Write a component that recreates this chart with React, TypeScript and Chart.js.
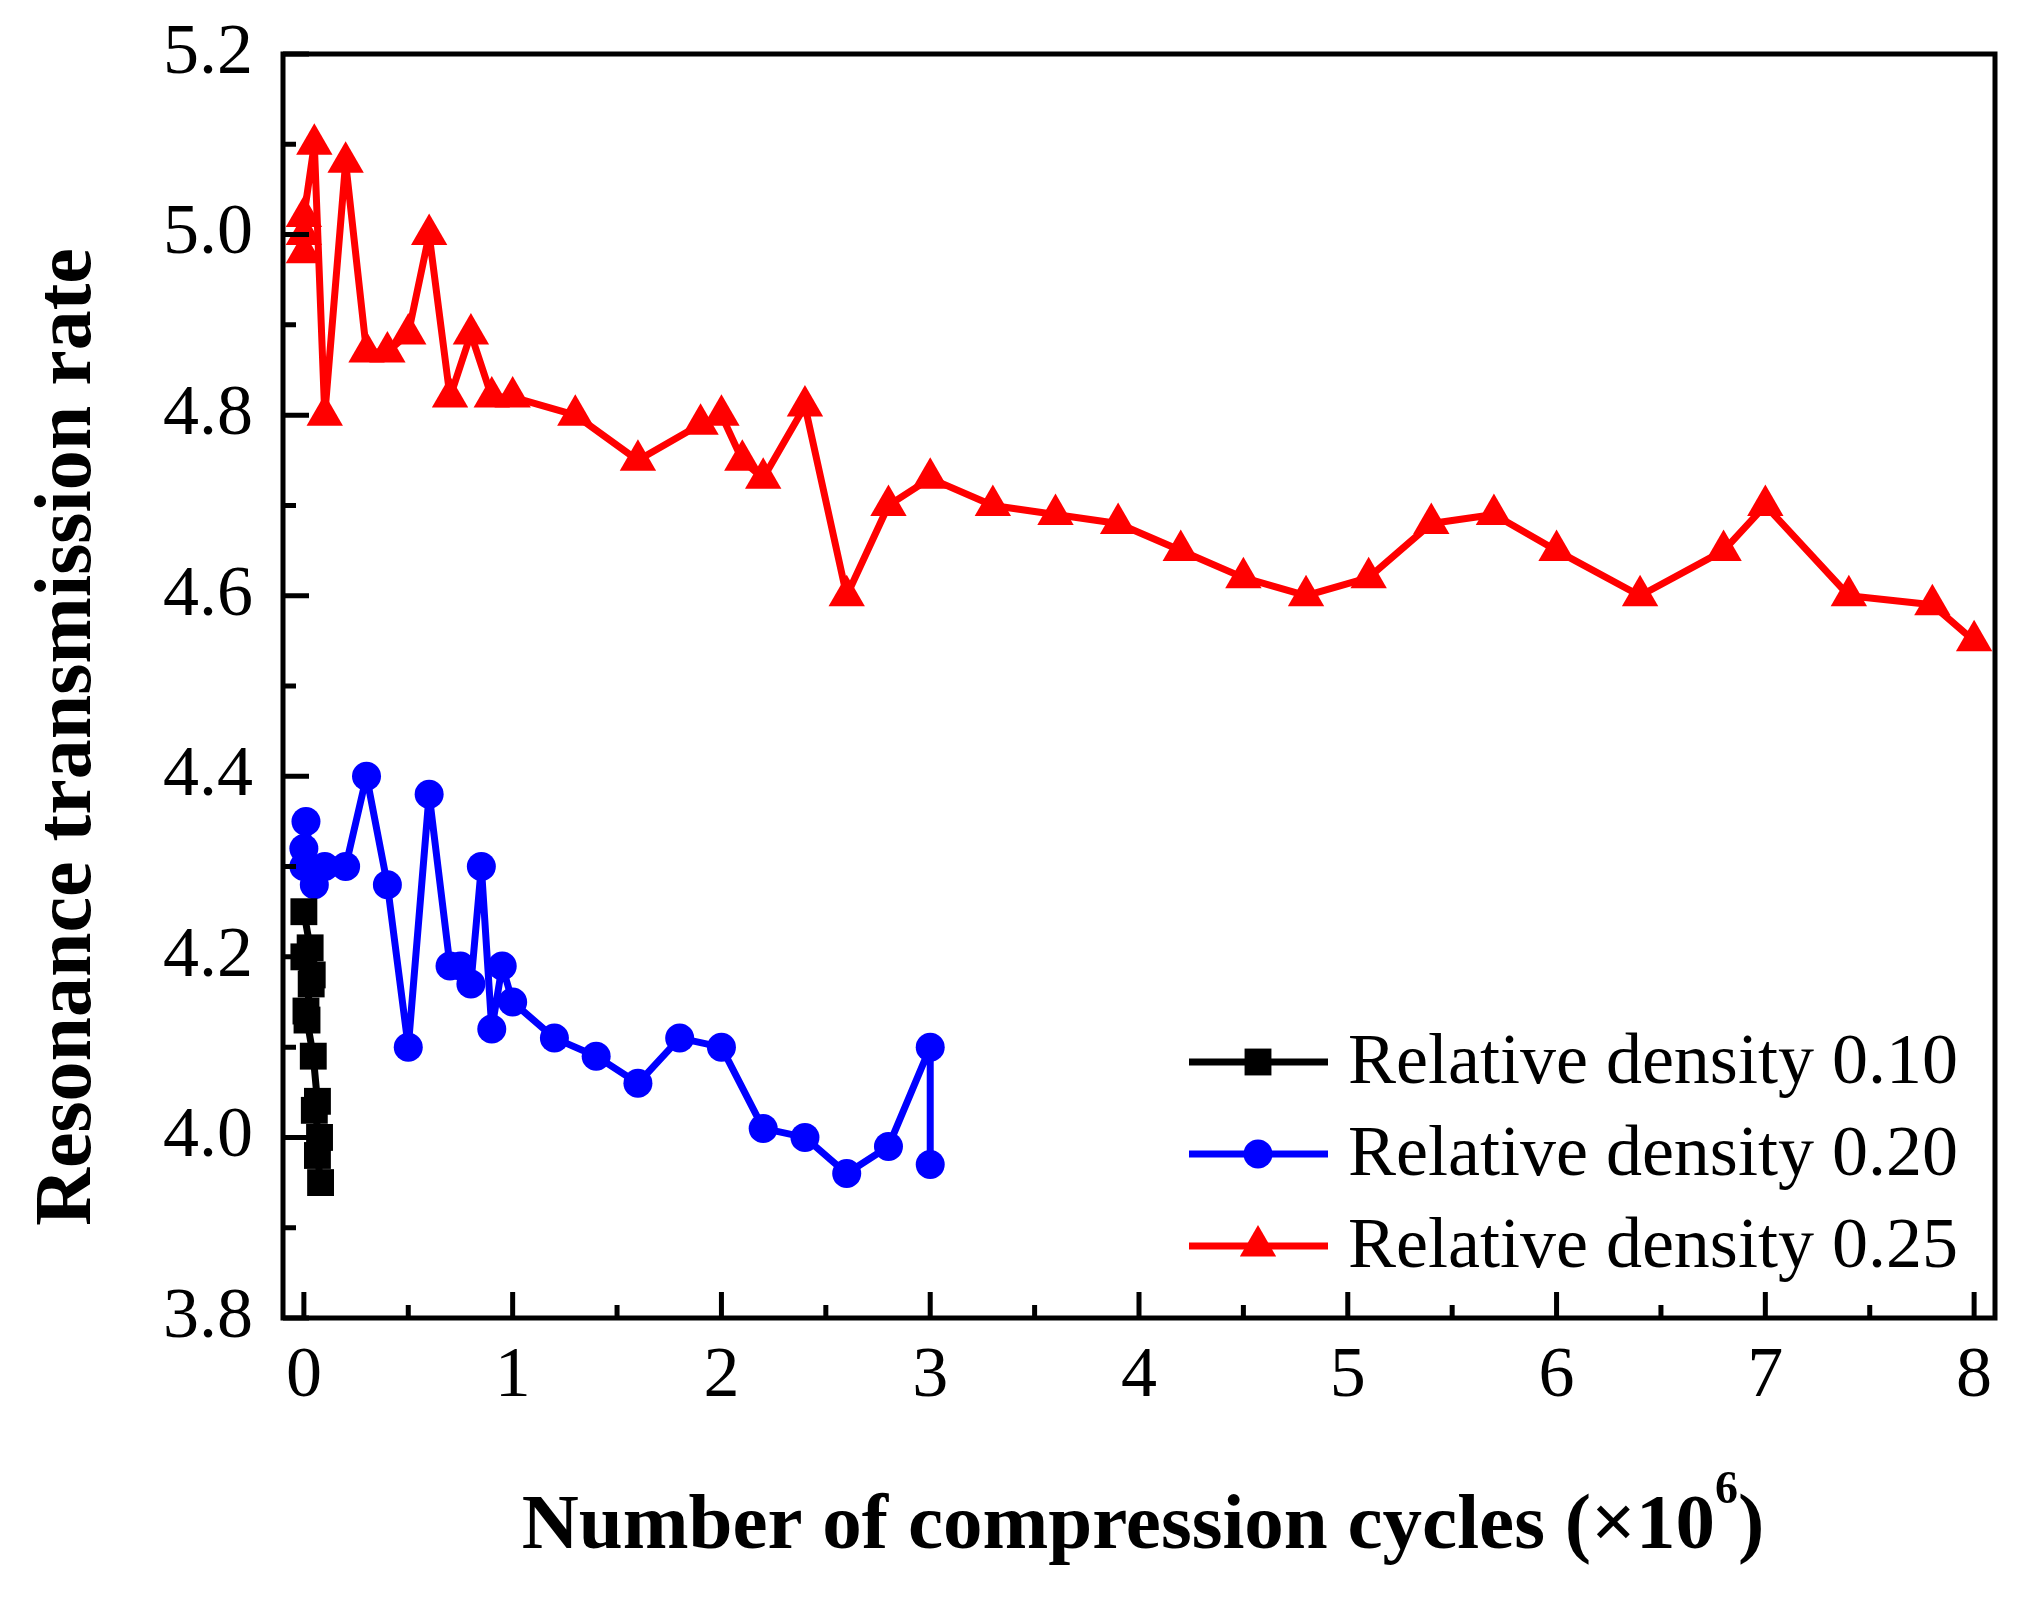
import React, { useEffect, useRef } from 'react';
import { Chart, registerables } from 'chart.js';
import { drawPoint } from 'chart.js/helpers';

Chart.register(...registerables);

// ---- data ----
const seriesLabels = ['Relative density 0.10', 'Relative density 0.20', 'Relative density 0.25'];

const blackX = [0, 0.03, 0.0, 0.04, 0.035, 0.01, 0.015, 0.045, 0.065, 0.05, 0.075, 0.065, 0.08];
const blackY = [4.25, 4.21, 4.2, 4.18, 4.17, 4.14, 4.13, 4.09, 4.04, 4.03, 4.0, 3.98, 3.95];

const blueX = [0, 0, 0.01, 0.05, 0.1, 0.2, 0.3, 0.4, 0.5, 0.6, 0.7, 0.75, 0.8, 0.85, 0.9, 0.95, 1.0, 1.2, 1.4, 1.6, 1.8, 2.0, 2.2, 2.4, 2.6, 2.8, 3.0, 3.0];
const blueY = [4.3, 4.32, 4.35, 4.28, 4.3, 4.3, 4.4, 4.28, 4.1, 4.38, 4.19, 4.19, 4.17, 4.3, 4.12, 4.19, 4.15, 4.11, 4.09, 4.06, 4.11, 4.1, 4.01, 4.0, 3.96, 3.99, 4.1, 3.97];

const redX = [0, 0, 0, 0.05, 0.1, 0.2, 0.3, 0.4, 0.5, 0.6, 0.7, 0.8, 0.9, 1.0, 1.3, 1.6, 1.9, 2.0, 2.1, 2.2, 2.4, 2.6, 2.8, 3.0, 3.3, 3.6, 3.9, 4.2, 4.5, 4.8, 5.1, 5.4, 5.7, 6.0, 6.4, 6.8, 7.0, 7.4, 7.8, 8.0];
const redY = [4.98, 5.0, 5.02, 5.1, 4.8, 5.08, 4.87, 4.87, 4.89, 5.0, 4.82, 4.89, 4.82, 4.82, 4.8, 4.75, 4.79, 4.8, 4.75, 4.73, 4.81, 4.6, 4.7, 4.73, 4.7, 4.69, 4.68, 4.65, 4.62, 4.6, 4.62, 4.68, 4.69, 4.65, 4.6, 4.65, 4.7, 4.6, 4.59, 4.55];

const xMajorTicks = [0, 1, 2, 3, 4, 5, 6, 7, 8];
const xMinorTicks = [0.5, 1.5, 2.5, 3.5, 4.5, 5.5, 6.5, 7.5];
const yMajorTicks = [3.8, 4.0, 4.2, 4.4, 4.6, 4.8, 5.0, 5.2];
const yMinorTicks = [3.9, 4.1, 4.3, 4.5, 4.7, 4.9, 5.1];

const xTitleMain = 'Number of compression cycles (×10';
const xTitleSup = '6';
const xTitleEnd = ')';
const yTitle = 'Resonance transmission rate';

const SERIF = '"Liberation Serif", "Times New Roman", serif';

function zip(xs: number[], ys: number[]) {
  return xs.map((x, i) => ({ x, y: ys[i] }));
}

const decorPlugin = {
  id: 'decor',
  afterDraw(chart: any) {
    const { ctx, chartArea: a, scales } = chart;
    const xs = scales.x;
    const ys = scales.y;
    ctx.save();
    // inward ticks
    ctx.strokeStyle = '#000';
    ctx.lineWidth = 5;
    ctx.lineCap = 'butt';
    ctx.beginPath();
    xMajorTicks.forEach((v) => {
      const p = xs.getPixelForValue(v);
      ctx.moveTo(p, a.bottom);
      ctx.lineTo(p, a.bottom - 26);
    });
    xMinorTicks.forEach((v) => {
      const p = xs.getPixelForValue(v);
      ctx.moveTo(p, a.bottom);
      ctx.lineTo(p, a.bottom - 13);
    });
    yMajorTicks.forEach((v) => {
      const p = ys.getPixelForValue(v);
      ctx.moveTo(a.left, p);
      ctx.lineTo(a.left + 26, p);
    });
    yMinorTicks.forEach((v) => {
      const p = ys.getPixelForValue(v);
      ctx.moveTo(a.left, p);
      ctx.lineTo(a.left + 13, p);
    });
    ctx.stroke();
    // frame
    ctx.lineJoin = 'miter';
    ctx.lineWidth = 5;
    ctx.strokeRect(a.left, a.top, a.right - a.left, a.bottom - a.top);

    // legend
    chart.data.datasets.forEach((ds: any, i: number) => {
      const yc = 1062 + i * 92;
      ctx.strokeStyle = ds.borderColor;
      ctx.lineWidth = 7;
      ctx.beginPath();
      ctx.moveTo(1189, yc);
      ctx.lineTo(1328, yc);
      ctx.stroke();
      ctx.fillStyle = ds.pointBackgroundColor;
      ctx.strokeStyle = ds.pointBackgroundColor;
      drawPoint(ctx, { pointStyle: ds.pointStyle, radius: ds.pointRadius, rotation: 0, borderWidth: 0 }, 1258, yc);
      ctx.fillStyle = '#000';
      ctx.font = `72px ${SERIF}`;
      ctx.textAlign = 'left';
      ctx.textBaseline = 'alphabetic';
      ctx.fillText(ds.label, 1348, yc + 21);
    });

    // y title
    ctx.save();
    ctx.translate(90, 737);
    ctx.rotate(-Math.PI / 2);
    ctx.font = `bold 80px ${SERIF}`;
    ctx.textAlign = 'center';
    ctx.textBaseline = 'alphabetic';
    ctx.fillStyle = '#000';
    ctx.fillText(yTitle, 0, 0);
    ctx.restore();

    // x title with superscript
    ctx.fillStyle = '#000';
    ctx.textAlign = 'left';
    ctx.textBaseline = 'alphabetic';
    ctx.font = `bold 79px ${SERIF}`;
    const w1 = ctx.measureText(xTitleMain).width;
    const w3 = ctx.measureText(xTitleEnd).width;
    ctx.font = `bold 46px ${SERIF}`;
    const w2 = ctx.measureText(xTitleSup).width;
    const total = w1 + w2 + w3;
    const start = 1143 - total / 2;
    ctx.font = `bold 79px ${SERIF}`;
    ctx.fillText(xTitleMain, start, 1548);
    ctx.fillText(xTitleEnd, start + w1 + w2, 1548);
    ctx.font = `bold 46px ${SERIF}`;
    ctx.fillText(xTitleSup, start + w1, 1503);
    ctx.restore();
  },
};

export default function App() {
  const canvasRef = useRef<HTMLCanvasElement | null>(null);

  useEffect(() => {
    const canvas = canvasRef.current;
    if (!canvas) return;
    const mk = (label: string, xs: number[], ys: number[], color: string, style: string, r: number) => ({
      label,
      data: zip(xs, ys),
      showLine: true,
      borderColor: color,
      backgroundColor: color,
      borderWidth: 7,
      borderJoinStyle: 'round',
      pointStyle: style,
      pointRadius: r,
      pointHoverRadius: r,
      pointBackgroundColor: color,
      pointBorderColor: color,
      pointBorderWidth: 0,
      tension: 0,
      clip: false as any,
    });
    const chart = new Chart(canvas, {
      type: 'scatter',
      data: {
        datasets: [
          mk(seriesLabels[0], blackX, blackY, '#000000', 'rect', 19),
          mk(seriesLabels[1], blueX, blueY, '#0000FF', 'circle', 14.5),
          mk(seriesLabels[2], redX, redY, '#FF0000', 'triangle', 21),
        ],
      },
      options: {
        animation: false,
        responsive: false,
        devicePixelRatio: 1,
        events: [],
        layout: { padding: { top: 54, right: 34, left: 0, bottom: 0 } },
        plugins: {
          legend: { display: false },
          tooltip: { enabled: false },
          title: { display: false },
        },
        scales: {
          x: {
            type: 'linear',
            min: -0.1,
            max: 8.1,
            grid: { display: false, drawTicks: false },
            border: { display: false },
            afterBuildTicks: (s: any) => {
              s.ticks = xMajorTicks.map((v) => ({ value: v }));
            },
            afterFit: (s: any) => {
              s.height = 280;
              s.paddingLeft = 0;
              s.paddingRight = 0;
            },
            ticks: {
              padding: 16,
              color: '#000',
              maxRotation: 0,
              autoSkip: false,
              font: { family: SERIF, size: 72, lineHeight: 1.2 },
              callback: (v: any) => String(v),
            },
          },
          y: {
            type: 'linear',
            min: 3.8,
            max: 5.2,
            grid: { display: false, drawTicks: false },
            border: { display: false },
            afterBuildTicks: (s: any) => {
              s.ticks = yMajorTicks.map((v) => ({ value: v }));
            },
            afterFit: (s: any) => {
              s.width = 283;
              s.paddingTop = 0;
              s.paddingBottom = 0;
            },
            ticks: {
              padding: 30,
              color: '#000',
              autoSkip: false,
              font: { family: SERIF, size: 72, lineHeight: 1.2 },
              callback: (v: any) => Number(v).toFixed(1),
            },
          },
        },
      },
      plugins: [decorPlugin],
    } as any);
    return () => chart.destroy();
  }, []);

  return (
    <div style={{ position: 'fixed', left: 0, top: 0, width: 2029, height: 1598, background: '#fff' }}>
      <canvas ref={canvasRef} width={2029} height={1598} style={{ display: 'block', width: 2029, height: 1598 }} />
    </div>
  );
}
